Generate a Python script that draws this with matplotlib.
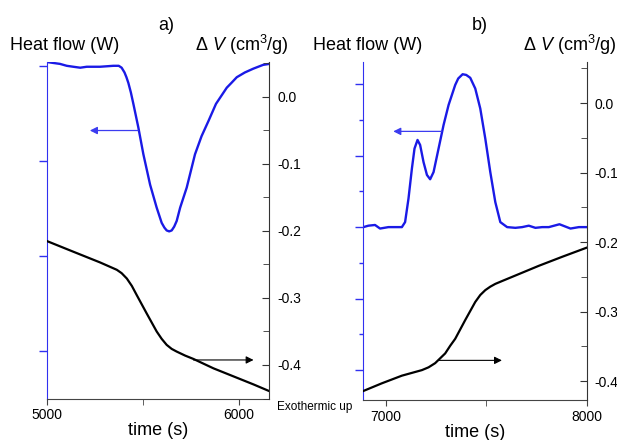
import matplotlib
matplotlib.use('Agg')
import matplotlib.pyplot as plt
from matplotlib.ticker import MultipleLocator, FixedLocator

plt.rcParams['font.family'] = ['Liberation Sans', 'DejaVu Sans']
plt.rcParams['mathtext.fontset'] = 'custom'
plt.rcParams['mathtext.rm'] = 'Liberation Sans'
plt.rcParams['mathtext.it'] = 'Liberation Sans:italic'
plt.rcParams['axes.unicode_minus'] = False

# ---- panel a data (heat flow in arbitrary units, dV in cm3/g) ----
t_a_heat = [5001, 5035, 5070, 5105, 5139, 5175, 5209, 5278, 5347, 5375, 5390,
            5405, 5415, 5425, 5438, 5451, 5477, 5503, 5538, 5572, 5598, 5612,
            5624, 5637, 5650, 5663, 5676, 5694, 5728, 5771, 5805, 5841, 5880,
            5936, 5960, 5988, 6030, 6074, 6125, 6157]
heat_a = [3.04, 3.03, 3.02, 3.00, 2.99, 2.98, 2.99, 2.99, 3.00, 3.00, 2.98,
          2.93, 2.88, 2.82, 2.72, 2.60, 2.35, 2.07, 1.75, 1.51, 1.35, 1.30,
          1.27, 1.26, 1.27, 1.31, 1.37, 1.51, 1.72, 2.07, 2.26, 2.42, 2.60,
          2.77, 2.82, 2.88, 2.93, 2.97, 3.01, 3.02]
t_a_dv = [5001, 5139, 5278, 5365, 5390, 5417, 5443, 5469, 5520, 5572, 5598,
          5624, 5650, 5676, 5720, 5763, 5867, 5971, 6075, 6157]
dv_a = [-0.215, -0.231, -0.247, -0.258, -0.263, -0.271, -0.282, -0.296,
        -0.323, -0.350, -0.361, -0.370, -0.376, -0.380, -0.386, -0.391,
        -0.405, -0.417, -0.429, -0.439]

# ---- panel b data ----
t_b_heat = [6887, 6912, 6945, 6970, 7012, 7045, 7079, 7095, 7112, 7129, 7142,
            7157, 7170, 7187, 7204, 7220, 7237, 7262, 7287, 7312, 7345, 7360,
            7382, 7400, 7420, 7445, 7470, 7495, 7520, 7545, 7570, 7604, 7645,
            7679, 7712, 7745, 7779, 7812, 7865, 7920, 7962, 8000]
heat_b = [2.00, 2.02, 2.03, 1.98, 2.00, 2.00, 2.00, 2.07, 2.40, 2.82, 3.10,
          3.22, 3.15, 2.91, 2.73, 2.67, 2.77, 3.10, 3.43, 3.71, 3.99, 4.08,
          4.14, 4.13, 4.09, 3.94, 3.66, 3.24, 2.77, 2.35, 2.07, 2.00, 1.99,
          2.00, 2.02, 1.99, 2.00, 2.00, 2.04, 1.98, 2.00, 2.00]
t_b_dv = [6887, 6979, 7079, 7179, 7212, 7245, 7270, 7295, 7320, 7345, 7395,
          7445, 7470, 7495, 7520, 7545, 7578, 7645, 7762, 7879, 8000]
dv_b = [-0.414, -0.403, -0.392, -0.384, -0.380, -0.374, -0.367, -0.360,
        -0.349, -0.339, -0.312, -0.286, -0.276, -0.269, -0.264, -0.260,
        -0.256, -0.248, -0.234, -0.221, -0.208]

blue = '#1a1ae6'
spine_blue = '#3030f0'

fig = plt.figure(figsize=(6.17, 4.40), dpi=100)


def make_panel(rect, xlim, xticks, xminor, hlim, hmajor, hminor, vlim):
    ax = fig.add_axes(rect)
    ax2 = ax.twinx()
    ax.set_xlim(*xlim)
    ax.xaxis.set_major_locator(FixedLocator(xticks))
    ax.xaxis.set_minor_locator(FixedLocator(xminor))
    ax.set_ylim(*hlim)
    ax.yaxis.set_major_locator(FixedLocator(hmajor))
    ax.yaxis.set_minor_locator(FixedLocator(hminor))
    ax.tick_params(axis='y', which='both', direction='out', colors=spine_blue,
                   labelleft=False, width=1)
    ax.tick_params(axis='y', which='major', length=6)
    ax.tick_params(axis='y', which='minor', length=3)
    ax.tick_params(axis='x', which='both', direction='out', length=4,
                   labelsize=10, pad=3, color='#444444')
    for s in ['top', 'right']:
        ax.spines[s].set_visible(False)
    ax.spines['left'].set_color(spine_blue)
    ax.spines['bottom'].set_color('#444444')

    ax2.set_ylim(*vlim)
    ax2.yaxis.set_major_locator(MultipleLocator(0.1))
    ax2.yaxis.set_minor_locator(MultipleLocator(0.05))
    ax2.yaxis.set_major_formatter(lambda v, p: f'{v:.1f}')
    ax2.tick_params(axis='y', which='both', direction='in', labelsize=10,
                    pad=6, color='#333333')
    ax2.tick_params(axis='y', which='major', length=5)
    ax2.tick_params(axis='y', which='minor', length=4)
    for s in ['top', 'left', 'bottom']:
        ax2.spines[s].set_visible(False)
    ax2.spines['right'].set_color('#333333')
    ax.set_xlabel('time (s)', fontsize=13, labelpad=0)
    return ax, ax2


axa, axa2 = make_panel([0.0754, 0.0943, 0.3611, 0.7648], (5000, 6157),
                       [5000, 6000], [5500], (-0.496, 3.04), [0, 1, 2, 3], [],
                       (-0.45, 0.052))
axa.plot(t_a_heat, heat_a, color=blue, lw=1.7, solid_joinstyle='round')
axa2.plot(t_a_dv, dv_a, color='black', lw=1.6, solid_joinstyle='round')
axa.annotate('', xy=(5225, 2.32), xytext=(5475, 2.32),
             arrowprops=dict(arrowstyle='-|>', color='#3c3cf0', lw=0.9,
                             mutation_scale=11, shrinkA=0, shrinkB=0))
axa2.annotate('', xy=(6075, -0.3925), xytext=(5763, -0.3925),
              arrowprops=dict(arrowstyle='-|>', color='black', lw=0.8,
                              mutation_scale=11, shrinkA=0, shrinkB=0))

axb, axb2 = make_panel([0.5888, 0.0909, 0.3618, 0.768], (6886.5, 8000),
                       [7000, 8000], [7500], (-0.42, 4.31),
                       [0, 1, 2, 3, 4], [0.5, 1.5, 2.5, 3.5],
                       (-0.427, 0.059))
axb.plot(t_b_heat, heat_b, color=blue, lw=1.7, solid_joinstyle='round')
axb2.plot(t_b_dv, dv_b, color='black', lw=1.6, solid_joinstyle='round')
axb.annotate('', xy=(7036, 3.34), xytext=(7278, 3.34),
             arrowprops=dict(arrowstyle='-|>', color='#3c3cf0', lw=0.9,
                             mutation_scale=11, shrinkA=0, shrinkB=0))
axb2.annotate('', xy=(7578, -0.370), xytext=(7261, -0.370),
              arrowprops=dict(arrowstyle='-|>', color='black', lw=0.8,
                              mutation_scale=11, shrinkA=0, shrinkB=0))


def ftext(x, y, s, **kw):
    fig.text(x / 617, 1 - y / 440, s, **kw)


dv_label = r'$\Delta$ $\mathit{V}$ (cm$^3$/g)'
ftext(166, 25, 'a)', fontsize=13, ha='center', va='center')
ftext(480, 25, 'b)', fontsize=13, ha='center', va='center')
ftext(10, 45, 'Heat flow (W)', fontsize=13, ha='left', va='center')
ftext(313, 45, 'Heat flow (W)', fontsize=13, ha='left', va='center')
ftext(195, 45, dv_label, fontsize=13, ha='left', va='center')
ftext(523, 45, dv_label, fontsize=13, ha='left', va='center')
ftext(277, 407, 'Exothermic up', fontsize=8.5, ha='left', va='center')

fig.savefig('out.png', dpi=100)
